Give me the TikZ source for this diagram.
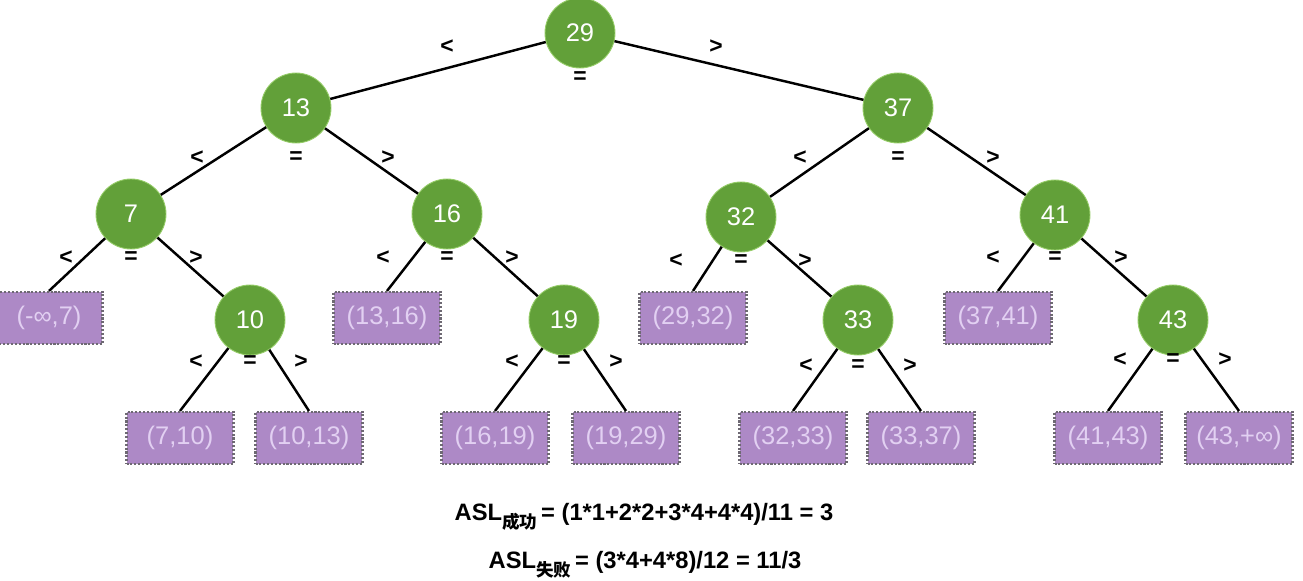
\documentclass[tikz,border=0pt]{standalone}
\usepackage{fontspec}
\setmainfont{Liberation Sans}
\newfontfamily\cjkfont{Noto Sans CJK SC}
\usetikzlibrary{positioning}

\definecolor{keygreen}{RGB}{98,160,57}
\definecolor{keyedge}{RGB}{150,205,105}
\definecolor{gapfill}{RGB}{173,137,198}
\definecolor{gapedge}{RGB}{110,105,115}
\definecolor{gaptext}{RGB}{226,208,242}

\begin{document}
\begin{tikzpicture}[
		x=0.02cm, y=-0.02cm,
		keynode/.style={
			circle,
			fill=keygreen,
			draw=keyedge,
			line width=0.5pt,
			minimum size=1.4cm,
			inner sep=0pt,
			text=white,
			font=\fontsize{14.5}{16}\selectfont
		},
		gapbox/.style={
			rectangle,
			fill=gapfill,
			draw=gapedge,
			densely dotted,
			line width=1.2pt,
			minimum width=2.14cm,
			minimum height=1.04cm,
			inner sep=0pt,
			text=gaptext,
			font=\fontsize{14.5}{16}\selectfont
		},
		branch/.style={line width=1.4pt},
		relmark/.style={inner sep=0pt, font=\fontsize{13}{13}\selectfont\bfseries},
		asltext/.style={inner sep=0pt, font=\fontsize{13.5}{16}\selectfont\bfseries}
	]
		\useasboundingbox (0,0) rectangle (1303,581);

		% keys
		\node[keynode] (k29) at (580,33) {29};
		\node[keynode] (k13) at (296,108) {13};
		\node[keynode] (k37) at (898,108) {37};
		\node[keynode] (k7) at (131,214) {7};
		\node[keynode] (k16) at (447,214) {16};
		\node[keynode] (k32) at (741,217) {32};
		\node[keynode] (k41) at (1055,215) {41};
		\node[keynode] (k10) at (250,320) {10};
		\node[keynode] (k19) at (564,320) {19};
		\node[keynode] (k33) at (858,320) {33};
		\node[keynode] (k43) at (1173,320) {43};

		% gaps
		\node[gapbox] (g0) at (49,318) {(-∞,7)};
		\node[gapbox] (g13) at (387,318) {(13,16)};
		\node[gapbox] (g29) at (693,318) {(29,32)};
		\node[gapbox] (g37) at (998,318) {(37,41)};
		\node[gapbox] (g7) at (180,438) {(7,10)};
		\node[gapbox] (g10) at (309,438) {(10,13)};
		\node[gapbox] (g16) at (495,438) {(16,19)};
		\node[gapbox] (g19) at (626,438) {(19,29)};
		\node[gapbox] (g32) at (793,438) {(32,33)};
		\node[gapbox] (g33) at (921,438) {(33,37)};
		\node[gapbox] (g41) at (1108,438) {(41,43)};
		\node[gapbox] (g43) at (1239,438) {(43,+∞)};

		% branches
		\draw[branch] (k29) -- (k13);
		\draw[branch] (k29) -- (k37);
		\draw[branch] (k13) -- (k7);
		\draw[branch] (k13) -- (k16);
		\draw[branch] (k7) -- (g0.north);
		\draw[branch] (k7) -- (k10);
		\draw[branch] (k10) -- (g7.north);
		\draw[branch] (k10) -- (g10.north);
		\draw[branch] (k16) -- (g13.north);
		\draw[branch] (k16) -- (k19);
		\draw[branch] (k19) -- (g16.north);
		\draw[branch] (k19) -- (g19.north);
		\draw[branch] (k37) -- (k32);
		\draw[branch] (k37) -- (k41);
		\draw[branch] (k32) -- (g29.north);
		\draw[branch] (k32) -- (k33);
		\draw[branch] (k33) -- (g32.north);
		\draw[branch] (k33) -- (g33.north);
		\draw[branch] (k41) -- (g37.north);
		\draw[branch] (k41) -- (k43);
		\draw[branch] (k43) -- (g41.north);
		\draw[branch] (k43) -- (g43.north);

		% comparisons
		\node[relmark] (lt29) at ([shift={(-133,14)}]k29) {<};
		\node[relmark] (eq29) at ([shift={(0,45)}]k29) {=};
		\node[relmark] (gt29) at ([shift={(136,14)}]k29) {>};
		\foreach \k/\dl/\dr/\dy in {13/99/92/50, 37/98/95/50, 7/65/65/44, 16/64/65/44,
			32/65/64/44, 41/62/66/43, 10/54/51/42, 19/52/52/42, 33/52/52/46, 43/53/52/40} {
			\node[relmark] (lt\k) at ([shift={(-\dl,\dy)}]k\k) {<};
			\node[relmark] (eq\k) at ([shift={(0,\dy)}]k\k) {=};
			\node[relmark] (gt\k) at ([shift={(\dr,\dy)}]k\k) {>};
		}

		% average search lengths
		\node[asltext] (aslhit) at (644,517)
			{ASL\raisebox{-0.6ex}{\cjkfont\fontsize{10}{10}\selectfont 成功}\,= (1*1+2*2+3*4+4*4)/11 = 3};
		\node[asltext] (aslmiss) at (645,565)
			{ASL\raisebox{-0.6ex}{\cjkfont\fontsize{10}{10}\selectfont 失败}\,= (3*4+4*8)/12 = 11/3};
	\end{tikzpicture}
\end{document}
